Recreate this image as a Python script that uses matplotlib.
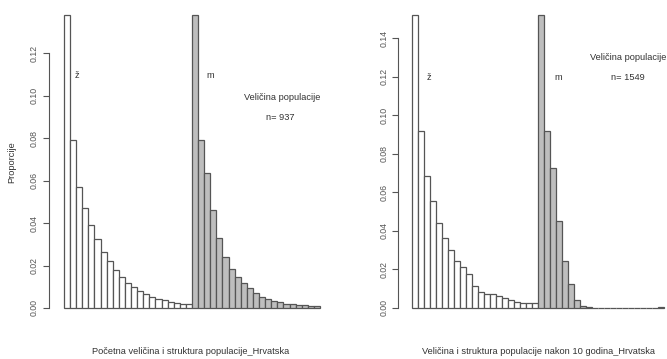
import numpy as np
import matplotlib.pyplot as plt

# proporcije po dobnim skupinama (21 skupina po spolu)
zene_pocetno = [0.138, 0.079, 0.057, 0.047, 0.039, 0.0325, 0.0265, 0.022, 0.0177, 0.0144, 0.0119,
                0.0099, 0.0078, 0.0064, 0.0053, 0.0044, 0.0036, 0.003, 0.0024, 0.0019, 0.0017]
muski_pocetno = [0.138, 0.079, 0.0635, 0.046, 0.033, 0.024, 0.0185, 0.0147, 0.0116, 0.0093, 0.0071,
                 0.0053, 0.0041, 0.0032, 0.0026, 0.002, 0.0017, 0.0014, 0.0012, 0.001, 0.0008]
zene_10god = [0.152, 0.092, 0.0686, 0.0556, 0.0439, 0.0364, 0.030, 0.0244, 0.021, 0.0174, 0.0113,
              0.008, 0.0072, 0.0072, 0.0059, 0.005, 0.004, 0.0028, 0.0023, 0.0023, 0.0023]
muski_10god = [0.152, 0.092, 0.0724, 0.0452, 0.0244, 0.0125, 0.004, 0.001, 0.0005, 0, 0,
               0, 0, 0, 0, 0, 0, 0, 0, 0, 0.0005]

ticks_lijevo = [0.00, 0.02, 0.04, 0.06, 0.08, 0.10, 0.12]
ticks_desno = [0.00, 0.02, 0.04, 0.06, 0.08, 0.10, 0.12, 0.14]

W, H = 667, 359
fig = plt.figure(figsize=(W / 100, H / 100), dpi=100)
plt.rcParams['font.family'] = ['Liberation Sans', 'DejaVu Sans']

txt = "#333333"
edge = "#555555"
fs = 6.7


def panel(x0, x1, y0, y1, zene, muski, ticks, outward):
    ax = fig.add_axes([x0 / W, 1 - y0 / H, (x1 - x0) / W, (y0 - y1) / H])
    vals = zene + muski
    n = len(zene)
    colors = ["white"] * n + ["#bebebe"] * len(muski)
    ax.bar(np.arange(len(vals)), vals, width=1, align="edge", color=colors,
           edgecolor=edge, linewidth=0.9, clip_on=False)
    ax.set_xlim(0, len(vals))
    ax.set_ylim(0, max(vals))
    for s in ["top", "right", "bottom"]:
        ax.spines[s].set_visible(False)
    ax.spines["left"].set_position(("outward", outward))
    ax.spines["left"].set_bounds(ticks[0], ticks[-1])
    ax.spines["left"].set_color(edge)
    ax.spines["left"].set_linewidth(0.8)
    ax.set_xticks([])
    ax.set_yticks(ticks)
    ax.set_yticklabels([f"{t:.2f}" for t in ticks], rotation=90, va="center",
                       fontsize=6.3, color="#555555")
    ax.tick_params(axis="y", length=4, width=0.8, color=edge, pad=3)
    return ax


ax1 = panel(64, 320, 308, 15, zene_pocetno, muski_pocetno, ticks_lijevo, 11)
ax1.text(2.1, 0.1096, "ž", ha="center", va="center", fontsize=fs, color=txt)
ax1.text(24.0, 0.1096, "m", ha="center", va="center", fontsize=fs, color=txt)
ax1.text(35.8, 0.0993, "Veličina populacije", ha="center", va="center", fontsize=fs, color=txt)
ax1.text(35.4, 0.0899, "n= 937", ha="center", va="center", fontsize=fs, color=txt)

ax2 = panel(412, 664, 307.7, 15, zene_10god, muski_10god, ticks_desno, 10)
ax2.text(2.83, 0.1194, "ž", ha="center", va="center", fontsize=fs, color=txt)
ax2.text(24.3, 0.1194, "m", ha="center", va="center", fontsize=fs, color=txt)
ax2.text(29.7, 0.1298, "Veličina populacije", ha="left", va="center", fontsize=fs, color=txt)
ax2.text(36.0, 0.1194, "n= 1549", ha="center", va="center", fontsize=fs, color=txt)

fig.text(12 / W, 1 - 162 / H, "Proporcije", rotation=90, ha="center", va="center",
         fontsize=fs, color=txt)
fig.text(191 / W, 1 - 352 / H, "Početna veličina i struktura populacije_Hrvatska",
         ha="center", va="center", fontsize=fs, color=txt)
fig.text(538 / W, 1 - 352 / H, "Veličina i struktura populacije nakon 10 godina_Hrvatska",
         ha="center", va="center", fontsize=fs, color=txt)

fig.savefig("out.png", dpi=100)
